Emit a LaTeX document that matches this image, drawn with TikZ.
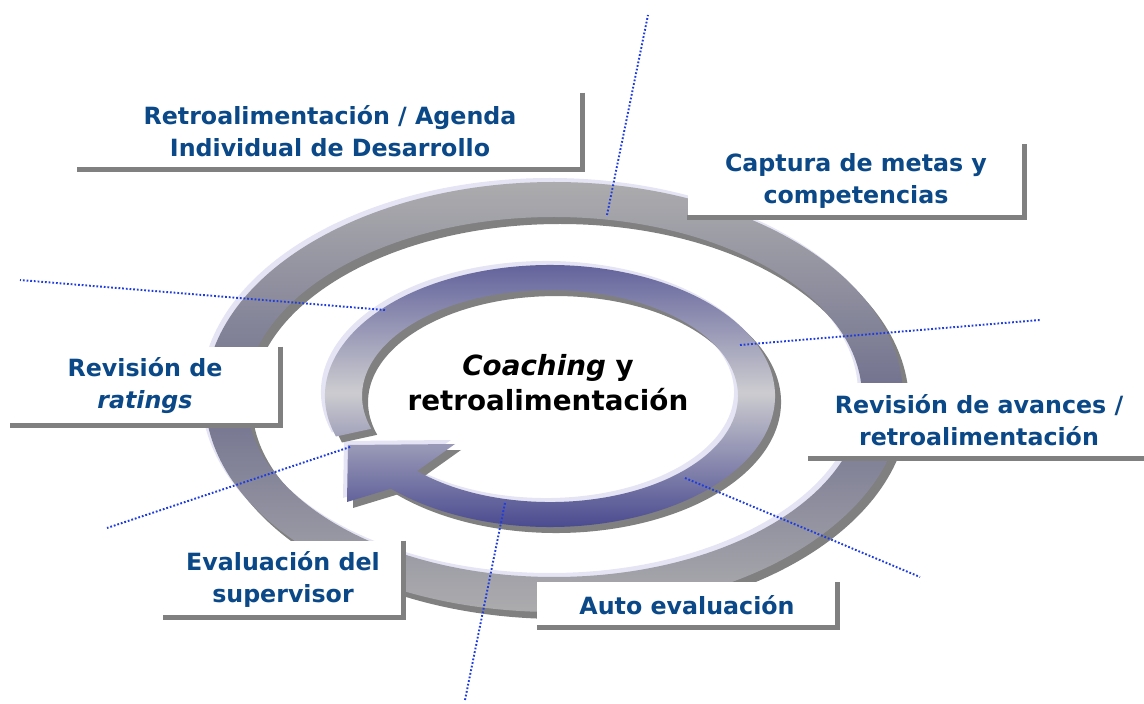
\documentclass[tikz,border=0pt]{standalone}
\usepackage{fontspec}
\setmainfont{DejaVu Sans}
\newcommand*{\pxu}{0.02cm}
\newcommand*{\ringpath}{(0,0) ellipse [x radius=349, y radius=215] (0,0) ellipse [x radius=308, y radius=180]}
\newcommand*{\arrowpath}{(-214,-40.5) arc [start angle=198, end angle=-135, x radius=225, y radius=131]
    -- (-203,-106) -- (-202,-49) -- (-95,-48) -- (-132.9,-75)
    arc [start angle=-135, end angle=198, x radius=188, y radius=106] -- cycle}
\definecolor{labelblue}{RGB}{10,72,135}
\definecolor{dotblue}{RGB}{30,60,225}
\definecolor{ringlight}{RGB}{172,172,174}
\definecolor{ringdark}{RGB}{112,112,142}
\definecolor{arrowtop}{RGB}{86,86,150}
\definecolor{arrowmid}{RGB}{204,204,208}
\definecolor{arrowbot}{RGB}{66,66,140}
\definecolor{glint}{RGB}{228,228,244}
\tikzset{
    labelbox/.style 2 args={fill=white, text=labelblue, align=center, inner sep=0pt,
        minimum width=#1*\pxu, minimum height=#2*\pxu,
        font=\fontsize{13.5}{18.2}\selectfont\bfseries},
    boxshadow/.style={draw=gray, line width=5*\pxu},
    spoke/.style={draw=dotblue, line width=1.1pt, dash pattern=on 1pt off 1.1pt},
}

\begin{document}
\begin{tikzpicture}[x=\pxu, y=\pxu]
    \useasboundingbox (0,0) rectangle (1144,704);
    % outer ring
    \begin{scope}[shift={(554,307)}]
        \fill [glint, even odd rule, shift={(-4,4)}] \ringpath;
        \fill [gray, even odd rule, shift={(6,-7)}] \ringpath;
        \shade [even odd rule, top color=ringlight, bottom color=ringlight, middle color=ringdark] \ringpath;
    \end{scope}
    % coaching arrow
    \begin{scope}[shift={(550,308)}]
        \fill [glint, shift={(-4,4)}] \arrowpath;
        \fill [gray, shift={(6,-6)}] \arrowpath;
        \shade [top color=arrowtop, bottom color=arrowbot, middle color=arrowmid] \arrowpath;
    \end{scope}
    \node (hub) [align=center, font=\fontsize{15.8}{20}\selectfont\bfseries] at (548,321) {\textit{Coaching} y\\retroalimentación};

    \coordinate (spoke1a) at (607,489); \coordinate (spoke1b) at (648,689);
    \coordinate (spoke2a) at (385,394); \coordinate (spoke2b) at (20,424);
    \coordinate (spoke3a) at (740,359); \coordinate (spoke3b) at (1040,384);
    \coordinate (spoke4a) at (350,257); \coordinate (spoke4b) at (107,176);
    \coordinate (spoke5a) at (685,226); \coordinate (spoke5b) at (920,127);
    \coordinate (spoke6a) at (505,201); \coordinate (spoke6b) at (465,4);
    \draw [spoke] (spoke1a) -- (spoke1b);
    \draw [spoke] (spoke2a) -- (spoke2b);
    \draw [spoke] (spoke3a) -- (spoke3b);
    \draw [spoke] (spoke4a) -- (spoke4b);
    \draw [spoke] (spoke5a) -- (spoke5b);
    \draw [spoke] (spoke6a) -- (spoke6b);

    \node (agenda)   [labelbox={505}{76}] at (330,573)   {Retroalimentación / Agenda\\Individual de Desarrollo};
    \node (captura)  [labelbox={337}{73}] at (856,523)   {Captura de metas y\\competencias};
    \node (ratings)  [labelbox={270}{78}] at (145,318)   {Revisión de\\\textit{ratings}};
    \node (avances)  [labelbox={342}{75}] at (979,283.5) {Revisión de avances /\\retroalimentación};
    \node (superv)   [labelbox={240}{76}] at (283,125)   {Evaluación del\\supervisor};
    \node (auto)     [labelbox={300}{45}] at (687,99)    {Auto evaluación};
    \draw [boxshadow] (agenda.north east) -- (agenda.south east) -- (agenda.south west);
    \draw [boxshadow] (captura.north east) -- (captura.south east) -- (captura.south west);
    \draw [boxshadow] (ratings.north east) -- (ratings.south east) -- (ratings.south west);
    \draw [boxshadow] (avances.north east) -- (avances.south east) -- (avances.south west);
    \draw [boxshadow] (superv.north east) -- (superv.south east) -- (superv.south west);
    \draw [boxshadow] (auto.north east) -- (auto.south east) -- (auto.south west);
    %\draw [red] (0,0) rectangle (1144,704);
\end{tikzpicture}
\end{document}
